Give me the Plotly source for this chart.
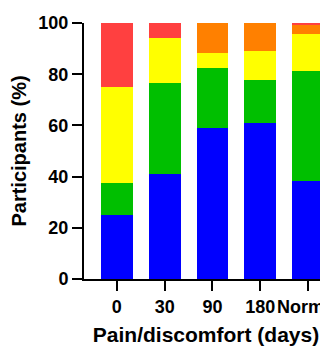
import plotly.graph_objects as go

categories = ["0", "30", "90", "180", "Normal"]
blue = [25.0, 41.2, 58.8, 61.1, 38.2]
green = [12.5, 35.3, 23.5, 16.7, 43.0]
yellow = [37.5, 17.6, 5.9, 11.1, 14.7]
orange = [0.0, 0.0, 11.8, 11.1, 3.5]
red = [25.0, 5.9, 0.0, 0.0, 0.6]

series = [
    ("Blue", blue, "#0000FF"),
    ("Green", green, "#00BF00"),
    ("Yellow", yellow, "#FFFF00"),
    ("Orange", orange, "#FF8000"),
    ("Red", red, "#FF4040"),
]

fig = go.Figure()
for name, vals, col in series:
    fig.add_trace(go.Bar(x=list(range(len(categories))), y=vals, name=name,
                         marker=dict(color=col, line=dict(width=0))))

fam = "Liberation Sans, Arial, sans-serif"
# page body adds an 8px offset, so the figure is sized to fill the rest of the window
fig.update_layout(
    barmode="stack",
    bargap=1/3,
    width=320, height=339,
    margin=dict(l=76, r=0, t=15, b=68),
    plot_bgcolor="white", paper_bgcolor="white",
    showlegend=False,
    font=dict(family=fam, color="black"),
)
fig.update_xaxes(
    tickvals=list(range(len(categories))), ticktext=categories,
    range=[-0.6875, 4.417], tickangle=0,
    showline=True, linecolor="black", linewidth=2,
    ticks="outside", ticklen=10, tickwidth=2, tickcolor="black",
    showgrid=False, zeroline=False, automargin=False,
    ticklabeloverflow="allow",
    tickfont=dict(size=18, weight="bold", family=fam),
    title=dict(text="Pain/discomfort (days)", font=dict(size=21, weight="bold", family=fam), standoff=12),
)
fig.update_yaxes(
    range=[0, 100], tickvals=[0, 20, 40, 60, 80, 100],
    showline=True, linecolor="black", linewidth=2,
    ticks="outside", ticklen=10, tickwidth=2, tickcolor="black",
    showgrid=False, zeroline=False, automargin=False,
    tickfont=dict(size=18, weight="bold", family=fam),
    title=dict(text="Participants (%)", font=dict(size=20, weight="bold", family=fam), standoff=6),
)
fig.write_html("out.html")
